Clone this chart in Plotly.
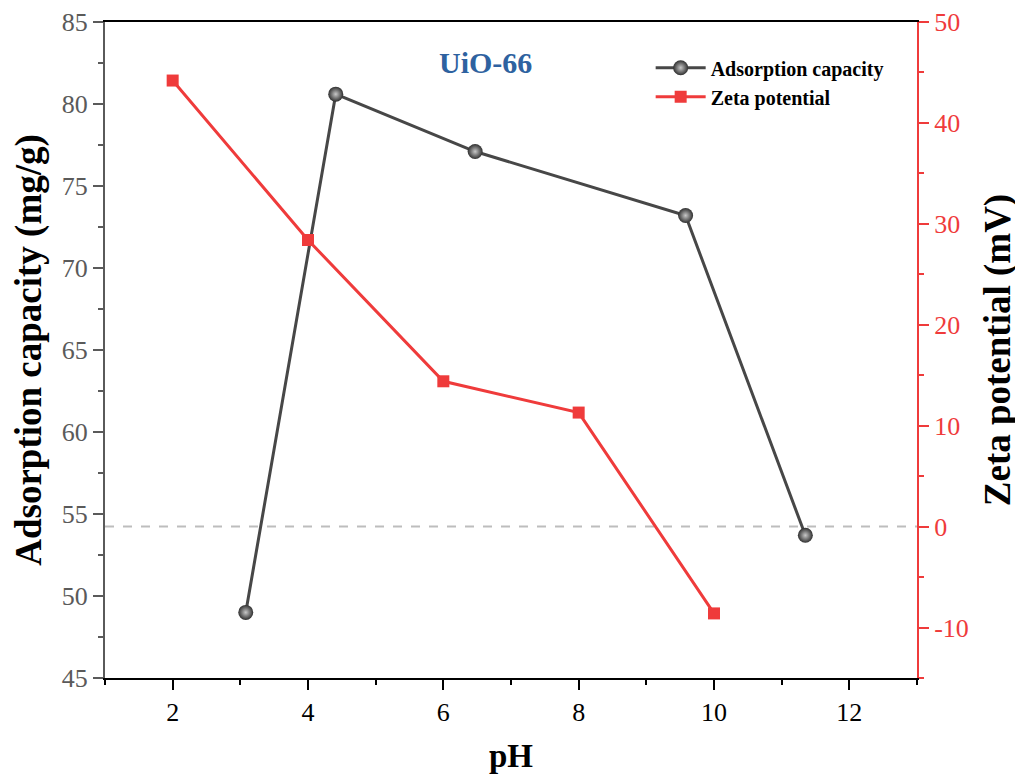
import plotly.graph_objects as go

# Data
ph_ads = [3.08, 4.41, 6.47, 9.58, 11.35]
ads_capacity = [49.0, 80.6, 77.1, 73.2, 53.7]
ph_zeta = [2, 4, 6, 8, 10]
zeta_potential = [44.2, 28.4, 14.4, 11.3, -8.6]
zeta_ticks = [-10, 0, 10, 20, 30, 40, 50]

FONT = "Liberation Serif"
RED = "#ef3b3b"
GRAY_AX = "#5a5a5a"

fig = go.Figure()
fig.add_trace(go.Scatter(
    x=ph_ads, y=ads_capacity, name="<b>Adsorption capacity</b>",
    mode="lines+markers",
    line=dict(color="#474747", width=3),
    marker=dict(size=15, color="#2f2f2f", symbol="circle",
                gradient=dict(type="radial", color="#c8c8c8"),
                line=dict(width=0)),
    yaxis="y"))
fig.add_trace(go.Scatter(
    x=ph_zeta, y=zeta_potential, name="<b>Zeta potential</b>",
    mode="lines+markers",
    line=dict(color=RED, width=3),
    marker=dict(size=12, color=RED, symbol="square", line=dict(width=0)),
    yaxis="y2"))

fig.add_shape(type="line", xref="paper", x0=0, x1=1, yref="y2", y0=0, y1=0,
              line=dict(color="#bdbdbd", width=2, dash="dash"), layer="below")

fig.add_annotation(text="<b>UiO-66</b>", xref="x", yref="paper", x=6.63, y=0.938,
                   xanchor="center", yanchor="middle",
                   showarrow=False, font=dict(family=FONT, size=30, color="#2e62a0"))

fig.update_layout(
    width=1015, height=770,
    margin=dict(l=97, r=106, t=14, b=100, autoexpand=False),
    plot_bgcolor="white", paper_bgcolor="white",
    font=dict(family=FONT, color="black"),
    showlegend=True,
    legend=dict(x=0.672, y=0.96, xanchor="left", yanchor="top",
                bgcolor="rgba(0,0,0,0)", font=dict(family=FONT, size=20, color="black"),
                tracegroupgap=0, itemwidth=50),
    xaxis=dict(range=[1, 13], tickvals=[2, 4, 6, 8, 10, 12],
               showline=True, linecolor="black", linewidth=2, mirror=True,
               ticks="outside", ticklen=10, tickwidth=2, tickcolor="black",
               minor=dict(dtick=1, ticks="outside", ticklen=5, tickwidth=2, tickcolor="black"),
               tickfont=dict(family=FONT, size=26, color="black"),
               showgrid=False, zeroline=False,
               title=dict(text="<b>pH</b>", font=dict(family=FONT, size=33, color="black"), standoff=18)),
    yaxis=dict(range=[45, 85], dtick=5,
               showline=True, linecolor=GRAY_AX, linewidth=2,
               ticks="outside", ticklen=10, tickwidth=2, tickcolor=GRAY_AX,
               minor=dict(dtick=2.5, ticks="outside", ticklen=5, tickwidth=2, tickcolor=GRAY_AX),
               tickfont=dict(family=FONT, size=26, color=GRAY_AX),
               showgrid=False, zeroline=False,
               title=dict(text="<b>Adsorption capacity (mg/g)</b>",
                          font=dict(family=FONT, size=37, color="black"), standoff=10)),
    yaxis2=dict(range=[-15, 50], tickvals=zeta_ticks, ticktext=[str(v) for v in zeta_ticks],
                overlaying="y", side="right",
                showline=True, linecolor=RED, linewidth=2,
                ticks="outside", ticklen=10, tickwidth=2, tickcolor=RED,
                minor=dict(dtick=5, ticks="outside", ticklen=5, tickwidth=2, tickcolor=RED),
                tickfont=dict(family=FONT, size=26, color=RED),
                showgrid=False, zeroline=False,
                title=dict(text="<b>Zeta potential (mV)</b>",
                           font=dict(family=FONT, size=37, color="black"), standoff=16)),
)

fig.write_html("out.html")
